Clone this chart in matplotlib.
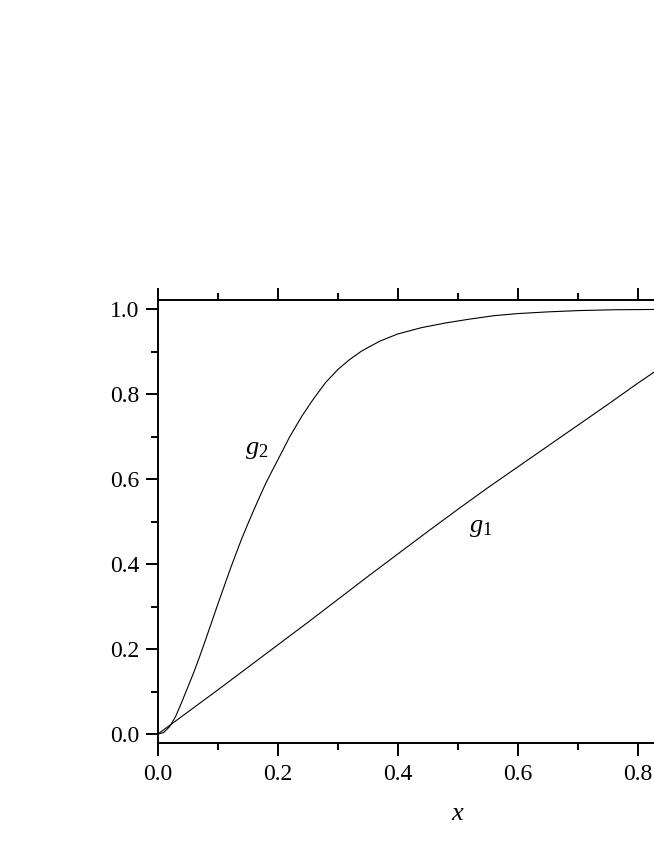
import matplotlib
matplotlib.use("Agg")
import matplotlib.pyplot as plt
from matplotlib.ticker import MultipleLocator
from matplotlib import font_manager

plt.rcParams['font.family'] = 'serif'
plt.rcParams['font.serif'] = ['Liberation Serif', 'Times New Roman', 'DejaVu Serif']
plt.rcParams['mathtext.fontset'] = 'custom'
plt.rcParams['mathtext.rm'] = 'Liberation Serif'
plt.rcParams['mathtext.it'] = 'Liberation Serif:italic'

# g1 curve
x_g1 = [0.0, 0.05, 0.10, 0.15, 0.20, 0.25, 0.30, 0.35, 0.40, 0.45, 0.50,
        0.55, 0.60, 0.65, 0.70, 0.75, 0.80, 0.85]
g1 = [0.0, 0.052, 0.104, 0.157, 0.210, 0.263, 0.317, 0.371, 0.424, 0.477,
      0.529, 0.580, 0.629, 0.678, 0.727, 0.776, 0.826, 0.874]

# g2 curve
x_g2 = [0.0, 0.01, 0.02, 0.03, 0.04, 0.05, 0.06, 0.07, 0.08, 0.09, 0.10,
        0.11, 0.12, 0.13, 0.14, 0.15, 0.16, 0.17, 0.18, 0.19, 0.20, 0.22,
        0.24, 0.26, 0.28, 0.30, 0.32, 0.34, 0.37, 0.40, 0.44, 0.48, 0.52,
        0.56, 0.60, 0.65, 0.70, 0.76, 0.85]
g2 = [0.0, 0.004, 0.018, 0.042, 0.075, 0.110, 0.145, 0.183, 0.223, 0.264,
      0.305, 0.345, 0.385, 0.423, 0.460, 0.494, 0.527, 0.559, 0.590, 0.618,
      0.645, 0.700, 0.748, 0.790, 0.828, 0.858, 0.882, 0.902, 0.925, 0.942,
      0.957, 0.968, 0.977, 0.985, 0.990, 0.994, 0.997, 0.999, 1.0]

x_ticks = [0.0, 0.2, 0.4, 0.6, 0.8]
y_ticks = [0.0, 0.2, 0.4, 0.6, 0.8, 1.0]

fig = plt.figure(figsize=(6.54, 8.46), dpi=100)
ax = fig.add_axes([0.2411, 0.1221, 1.1586 - 0.2411, 0.6454 - 0.1221])

ax.plot(x_g1, g1, color='black', lw=0.8)
ax.plot(x_g2, g2, color='black', lw=0.8)

ax.set_xlim(0, 1.0)
ax.set_ylim(-0.02, 1.022)

ax.set_xticks(x_ticks)
ax.set_yticks(y_ticks)
ax.xaxis.set_minor_locator(MultipleLocator(0.1))
ax.yaxis.set_minor_locator(MultipleLocator(0.1))
ax.set_xticklabels([f"{v:.1f}" for v in x_ticks])
ax.set_yticklabels([f"{v:.1f}" for v in y_ticks])

ax.tick_params(which='both', direction='out', top=True, right=False,
               labelsize=17, width=1.4)
ax.tick_params(which='major', length=9)
ax.tick_params(which='minor', length=5)
ax.tick_params(axis='x', pad=6)
ax.tick_params(axis='y', pad=4)

for s in ax.spines.values():
    s.set_linewidth(1.4)

ax.text(0.145, 0.66, r'$g_2$', fontsize=19)
ax.text(0.518, 0.475, r'$g_1$', fontsize=19)

ax.set_xlabel(r'$x$', fontsize=19, labelpad=13)

fig.savefig('out.png', dpi=100)
